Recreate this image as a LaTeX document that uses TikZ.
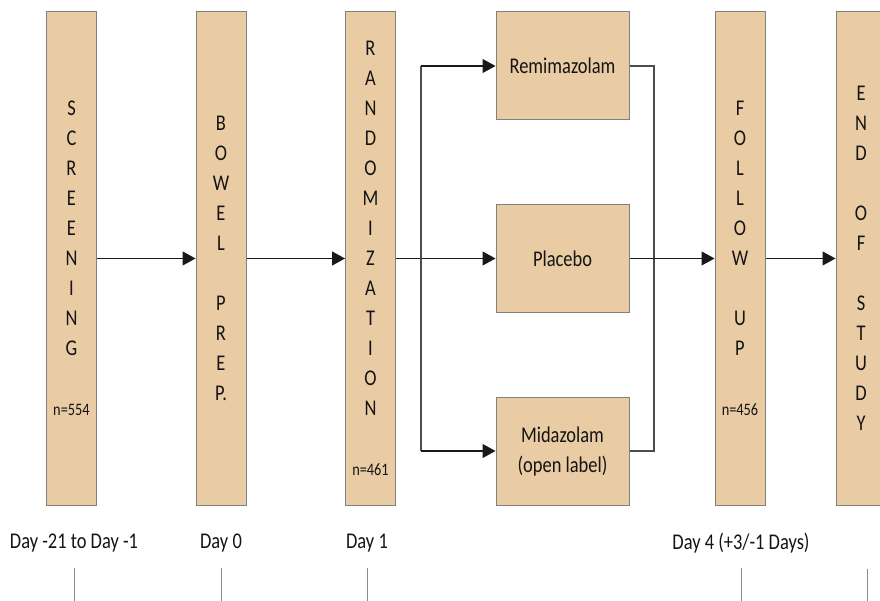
\documentclass[tikz,border=0pt]{standalone}
\usepackage{fontspec}
\setmainfont[FakeStretch=0.82]{Carlito}
\usetikzlibrary{arrows.meta}

\definecolor{boxtan}{RGB}{234,204,164}
\definecolor{boxline}{RGB}{128,128,128}
\definecolor{txt}{RGB}{20,20,20}

\tikzset{
  phase/.style={draw=boxline, fill=boxtan, line width=1pt, minimum width=50pt,
    minimum height=493pt, inner sep=0pt, align=center, text=txt,
    font=\fontsize{22.5}{30}\selectfont},
  arm/.style={phase, minimum width=133pt, minimum height=108pt},
  flow/.style={-{Triangle[length=13pt,width=14pt]}, line width=1.1pt, black!90},
  link/.style={line width=1.1pt, black!70},
  daylbl/.style={text=txt, font=\fontsize{22.5}{30}\selectfont},
  tick/.style={line width=1pt, black!45}
}
\newcommand{\nsize}[1]{{\fontsize{17.5}{30}\selectfont #1}}

\begin{document}
\begin{tikzpicture}[x=1pt,y=-1pt]
    \useasboundingbox (0,0) rectangle (880,601);

    % study phases
    \node[phase] (scr) at (71.5,258.5) {S\\C\\R\\E\\E\\N\\I\\N\\G\\[30pt]\nsize{n=554}};
    \node[phase] (bowel) at (221,258.5) {B\\O\\W\\E\\L\\[30pt]P\\R\\E\\P.};
    \node[phase] (rand) at (370.5,258.5) {R\\A\\N\\D\\O\\M\\I\\Z\\A\\T\\I\\O\\N\\[30pt]\nsize{n=461}};
    \node[phase] (fol) at (740,258.5) {F\\O\\L\\L\\O\\W\\[30pt]U\\P\\[30pt]\nsize{n=456}};
    \node[phase] (eos) at (861,258.5) {E\\N\\D\\[30pt]O\\F\\[30pt]S\\T\\U\\D\\Y};

    % treatment arms
    \node[arm] (remi) at (562.5,66) {Remimazolam};
    \node[arm] (plac) at (562.5,258.5) {Placebo};
    \node[arm] (mida) at (562.5,451) {Midazolam\\(open label)};

    \coordinate (split) at (421,258.5);
    \coordinate (join) at (654,258.5);

    \draw[flow] (scr) -- (bowel);
    \draw[flow] (bowel) -- (rand);
    \draw[flow] (rand) -- (plac);
    \draw[link] (split |- remi.west) -- (split |- mida.west);
    \draw[flow] (split |- remi.west) -- (remi.west);
    \draw[flow] (split |- mida.west) -- (mida.west);
    \draw[link] (remi.east) -- (join |- remi.east) -- (join |- mida.east) -- (mida.east);
    \draw[flow] (plac) -- (fol);
    \draw[flow] (fol) -- (eos);

    % time line
    \node[daylbl] (d21) at (74,543) {Day -21 to Day -1};
    \node[daylbl] (d0) at (221,543) {Day 0};
    \node[daylbl] (d1) at (367,543) {Day 1};
    \node[daylbl] (d4) at (741,543) {Day 4 (+3/-1 Days)};

    \draw[tick] (d21 |- 0,568) -- (d21 |- 0,601);
    \draw[tick] (d0 |- 0,568) -- (d0 |- 0,601);
    \draw[tick] (d1 |- 0,568) -- (d1 |- 0,601);
    \draw[tick] (d4 |- 0,568) -- (d4 |- 0,601);
    \draw[tick] ([xshift=6pt]eos.south) ++(0,63) -- ++(0,40);
\end{tikzpicture}
\end{document}
